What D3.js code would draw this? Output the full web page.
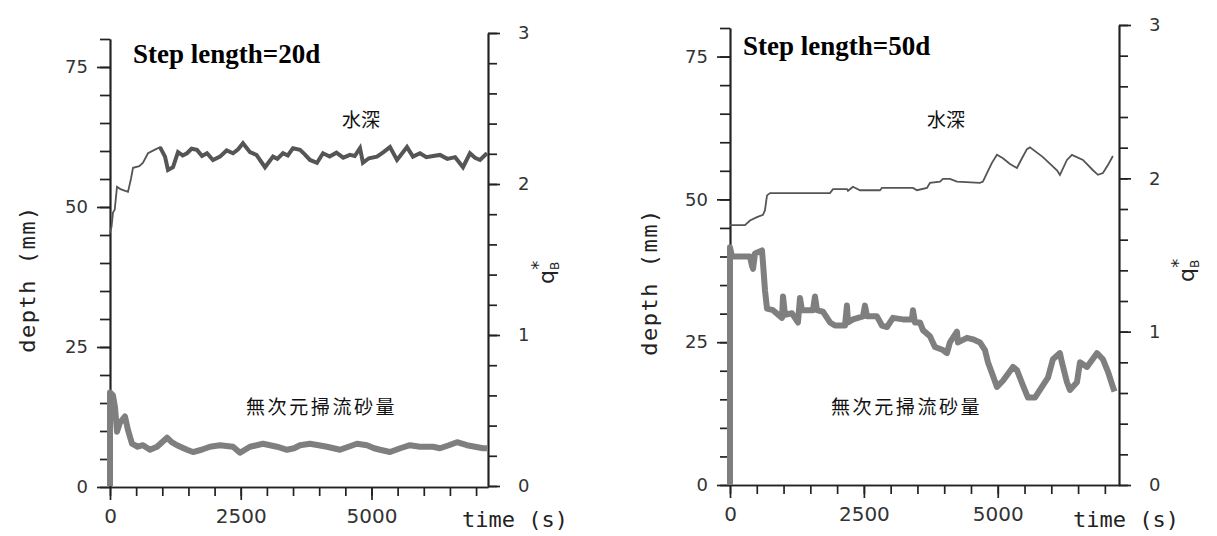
<!DOCTYPE html>
<html>
<head>
<meta charset="utf-8">
<script src="https://cdn.jsdelivr.net/npm/d3@7"></script>
<style>
  body { margin: 0; background: #fff; }
  svg { display: block; }
  .axis path, .axis line { stroke: #222; stroke-width: 1.7; }
  .axis text { font-family: "DejaVu Sans", sans-serif; fill: #333; }
  .title { font-family: "Liberation Serif", "Times New Roman", serif; font-weight: bold; font-size: 27px; fill: #000; }
  .cjk { font-family: "Noto Sans CJK JP", sans-serif; font-size: 19px; fill: #111; }
  .mono { font-family: "DejaVu Sans Mono", monospace; font-size: 22px; fill: #222; }
  .qlab { font-family: "DejaVu Sans", sans-serif; fill: #222; }
</style>
</head>
<body>
<svg id="chart" width="1217" height="536"></svg>
<script>
/* time (s) vs depth (mm) and q_B* */

const titles = ["Step length=20d", "Step length=50d"];
const depthTicks = [0, 25, 50, 75];
const qTicks = [0, 1, 2, 3];
const timeTicks = [0, 2500, 5000];

/* Step length = 20d : water depth (mm) */
const depth20 = [
  [0, 45.4], [30, 46.5], [57, 49], [90, 49.5], [134, 53.6], [200, 53.2], [344, 52.7],
  [400, 55], [440, 57], [560, 57.3], [631, 57.9], [727, 59.6], [850, 60.2], [956, 60.7],
  [1052, 59], [1109, 56.6], [1205, 57.1], [1300, 59.8], [1390, 59.2], [1472, 59.6],
  [1560, 60.4], [1663, 60.2], [1760, 59.1], [1855, 59.6], [1969, 58.4], [2103, 59],
  [2230, 60.1], [2352, 59.6], [2450, 60.3], [2543, 61.4], [2677, 59.8], [2800, 59.3],
  [2964, 57.1], [3117, 59], [3200, 58.6], [3308, 59.6], [3400, 59.2], [3499, 60.5],
  [3633, 60.2], [3724, 59.4], [3824, 58.4], [3958, 57.9], [4073, 59.6], [4200, 59],
  [4330, 59.7], [4460, 58.8], [4589, 59.3], [4680, 59.1], [4780, 60.5], [4837, 57.9],
  [4950, 58.7], [5105, 59], [5230, 59.8], [5354, 60.7], [5488, 58.4], [5580, 59.5],
  [5679, 60.7], [5793, 59], [5927, 59.6], [6050, 58.9], [6180, 59.1], [6310, 59.3],
  [6450, 58.6], [6600, 58.9], [6750, 57.1], [6883, 59.6], [6980, 58.8], [7075, 58.4],
  [7208, 59.6]
];

/* Step length = 20d : dimensionless bed load q_B* */
const qb20 = [
  [0, 0], [0, 0.62], [57, 0.6], [96, 0.52], [134, 0.36], [191, 0.42], [287, 0.46],
  [344, 0.37], [421, 0.28], [530, 0.26], [631, 0.27], [765, 0.24], [900, 0.26],
  [1090, 0.32], [1180, 0.29], [1281, 0.27], [1472, 0.24], [1587, 0.225], [1750, 0.24],
  [1912, 0.26], [2103, 0.27], [2352, 0.26], [2486, 0.22], [2677, 0.26], [2925, 0.28],
  [3060, 0.27], [3193, 0.26], [3384, 0.24], [3520, 0.25], [3633, 0.27], [3824, 0.28],
  [3990, 0.27], [4149, 0.26], [4398, 0.24], [4560, 0.26], [4723, 0.28], [4914, 0.27],
  [5050, 0.25], [5163, 0.24], [5354, 0.225], [5550, 0.25], [5736, 0.27], [5927, 0.26],
  [6176, 0.26], [6310, 0.25], [6480, 0.27], [6635, 0.29], [6826, 0.27], [6980, 0.26],
  [7132, 0.25], [7208, 0.25]
];

/* Step length = 50d : water depth (mm) */
const depth50 = [
  [0, 45.5], [280, 45.5], [373, 46.3], [504, 46.9], [616, 47.3], [653, 48.1], [691, 50.7],
  [748, 51.1], [1867, 51.1], [1923, 51.8], [2185, 51.8], [2203, 51.5], [2296, 52.2],
  [2427, 51.6], [2800, 51.6], [2838, 52], [3417, 52], [3491, 51.6], [3678, 52],
  [3734, 52.9], [3921, 53.1], [3977, 53.6], [4107, 53.6], [4238, 53.1], [4668, 52.9],
  [4723, 53.1], [4798, 54.6], [4891, 56.4], [4985, 57.8], [5097, 57.2], [5228, 56.2],
  [5358, 55.5], [5452, 57.2], [5545, 58.8], [5601, 59.1], [5844, 57.4], [6105, 55.1],
  [6161, 54.3], [6292, 56.9], [6385, 57.8], [6591, 56.9], [6778, 55.1], [6871, 54.3],
  [6964, 54.6], [7057, 56], [7150, 57.6]
];

/* Step length = 50d : dimensionless bed load q_B* */
const qb50 = [
  [0, 0], [0, 1.55], [37, 1.49], [373, 1.49], [411, 1.43], [430, 1.41], [467, 1.51],
  [597, 1.53], [616, 1.45], [653, 1.27], [691, 1.15], [803, 1.14], [971, 1.09],
  [990, 1.23], [1027, 1.11], [1157, 1.12], [1269, 1.06], [1307, 1.22], [1344, 1.14],
  [1549, 1.14], [1587, 1.23], [1624, 1.14], [1736, 1.13], [1867, 1.06], [1960, 1.04],
  [2147, 1.04], [2184, 1.17], [2203, 1.06], [2296, 1.08], [2483, 1.1], [2520, 1.17],
  [2558, 1.1], [2744, 1.1], [2838, 1.04], [2931, 1.03], [3043, 1.09], [3230, 1.08],
  [3398, 1.08], [3417, 1.14], [3454, 1.06], [3547, 1.06], [3603, 1.01], [3734, 0.97],
  [3827, 0.9], [3977, 0.88], [4051, 0.86], [4107, 0.93], [4238, 1], [4257, 0.93],
  [4425, 0.96], [4537, 0.95], [4668, 0.93], [4761, 0.88], [4817, 0.8], [4891, 0.73],
  [4985, 0.64], [5097, 0.68], [5284, 0.77], [5358, 0.75], [5470, 0.65], [5564, 0.57],
  [5694, 0.57], [5788, 0.62], [5937, 0.7], [6030, 0.82], [6161, 0.86], [6198, 0.8],
  [6292, 0.67], [6348, 0.62], [6479, 0.67], [6535, 0.8], [6666, 0.77], [6852, 0.86],
  [6964, 0.82], [7057, 0.74], [7150, 0.64], [7180, 0.61]
];

/* panel frames (pixel layout only) */
const panels = [
  { title: titles[0], depth: depth20, qb: qb20, thickFrom: 900,
    x0: 110, x1: 488, tMax: 7228, yl0: 487, yl1: 39, yr0: 486, yr1: 33,
    titleXY: [133, 63], wXY: [342, 127], qXY: [246, 414], qLab: [554, 284], dLab: [35, 279], tLab: [462, 527] },
  { title: titles[1], depth: depth50, qb: qb50, thickFrom: Infinity,
    x0: 730, x1: 1119, tMax: 7264, yl0: 485, yl1: 28, yr0: 485, yr1: 25,
    titleXY: [743, 55], wXY: [927, 127], qXY: [831, 414], qLab: [1194, 282], dLab: [657, 282], tLab: [1073, 527] }
];

const svg = d3.select("#chart");
const plain = d => String(d);

panels.forEach(p => {
  const x = d3.scaleLinear().domain([0, p.tMax]).range([p.x0, p.x1]);
  const yD = d3.scaleLinear().domain([0, 80]).range([p.yl0, p.yl1]);
  const yQ = d3.scaleLinear().domain([0, 3]).range([p.yr0, p.yr1]);

  const g = svg.append("g");

  /* minor ticks */
  g.append("g").attr("class", "axis")
    .attr("transform", `translate(${p.x0},0)`)
    .call(d3.axisLeft(yD).tickValues(d3.range(0, 81, 5)).tickSize(10).tickFormat("").tickSizeOuter(0));
  g.append("g").attr("class", "axis")
    .attr("transform", `translate(${p.x1},0)`)
    .call(d3.axisRight(yQ).tickValues(d3.range(0, 16).map(i => i / 5)).tickSize(9).tickFormat("").tickSizeOuter(0));
  g.append("g").attr("class", "axis")
    .attr("transform", `translate(0,${p.yl0})`)
    .call(d3.axisBottom(x).tickValues(d3.range(0, 7001, 500)).tickSize(9).tickFormat("").tickSizeOuter(0));

  /* major ticks with labels */
  const aL = g.append("g").attr("class", "axis")
    .attr("transform", `translate(${p.x0},0)`)
    .call(d3.axisLeft(yD).tickValues(depthTicks).tickFormat(plain).tickSize(13).tickPadding(9).tickSizeOuter(0));
  aL.selectAll("text").style("font-size", "18px");
  const aR = g.append("g").attr("class", "axis")
    .attr("transform", `translate(${p.x1},0)`)
    .call(d3.axisRight(yQ).tickValues(qTicks).tickFormat(plain).tickSize(12).tickPadding(18).tickSizeOuter(0));
  aR.selectAll("text").style("font-size", "18px");
  const aB = g.append("g").attr("class", "axis")
    .attr("transform", `translate(0,${p.yl0})`)
    .call(d3.axisBottom(x).tickValues(timeTicks).tickFormat(plain).tickSize(13).tickPadding(9).tickSizeOuter(0));
  aB.selectAll("text").style("font-size", "20px");

  /* series */
  const lineD = d3.line().x(d => x(d[0])).y(d => yD(d[1]));
  const lineQ = d3.line().x(d => x(d[0])).y(d => yQ(d[1]));

  g.append("path").datum(p.qb)
    .attr("d", lineQ).attr("fill", "none")
    .attr("stroke", "#7f7f7f").attr("stroke-width", 6).attr("stroke-linejoin", "round");
  g.append("path").datum(p.qb.slice(0, 2))
    .attr("d", lineQ).attr("fill", "none")
    .attr("stroke", "#7f7f7f").attr("stroke-width", 2.5);

  g.append("path").datum(p.depth)
    .attr("d", lineD).attr("fill", "none")
    .attr("stroke", "#555").attr("stroke-width", 1.8);
  g.append("path").datum(p.depth.filter(d => d[0] >= p.thickFrom))
    .attr("d", lineD).attr("fill", "none")
    .attr("stroke", "#555").attr("stroke-width", 4);

  /* texts */
  g.append("text").attr("class", "title")
    .attr("x", p.titleXY[0]).attr("y", p.titleXY[1]).text(p.title);
  g.append("text").attr("class", "cjk")
    .attr("x", p.wXY[0]).attr("y", p.wXY[1]).text("水深");
  g.append("text").attr("class", "cjk").style("letter-spacing", "2.6px")
    .attr("x", p.qXY[0]).attr("y", p.qXY[1]).text("無次元掃流砂量");

  g.append("text").attr("class", "mono").style("letter-spacing", "1.5px")
    .attr("text-anchor", "middle")
    .attr("transform", `translate(${p.dLab[0]},${p.dLab[1]}) rotate(-90)`)
    .text("depth (mm)");
  g.append("text").attr("class", "mono")
    .attr("x", p.tLab[0]).attr("y", p.tLab[1]).text("time (s)");

  const q = g.append("text").attr("class", "qlab")
    .attr("transform", `translate(${p.qLab[0]},${p.qLab[1]}) rotate(-90)`);
  q.append("tspan").style("font-size", "22px").text("q");
  q.append("tspan").style("font-size", "12px").attr("dy", 5).text("B");
  q.append("tspan").style("font-size", "18px").attr("dx", -8).attr("dy", -15).text("*");
});
</script>
</body>
</html>
